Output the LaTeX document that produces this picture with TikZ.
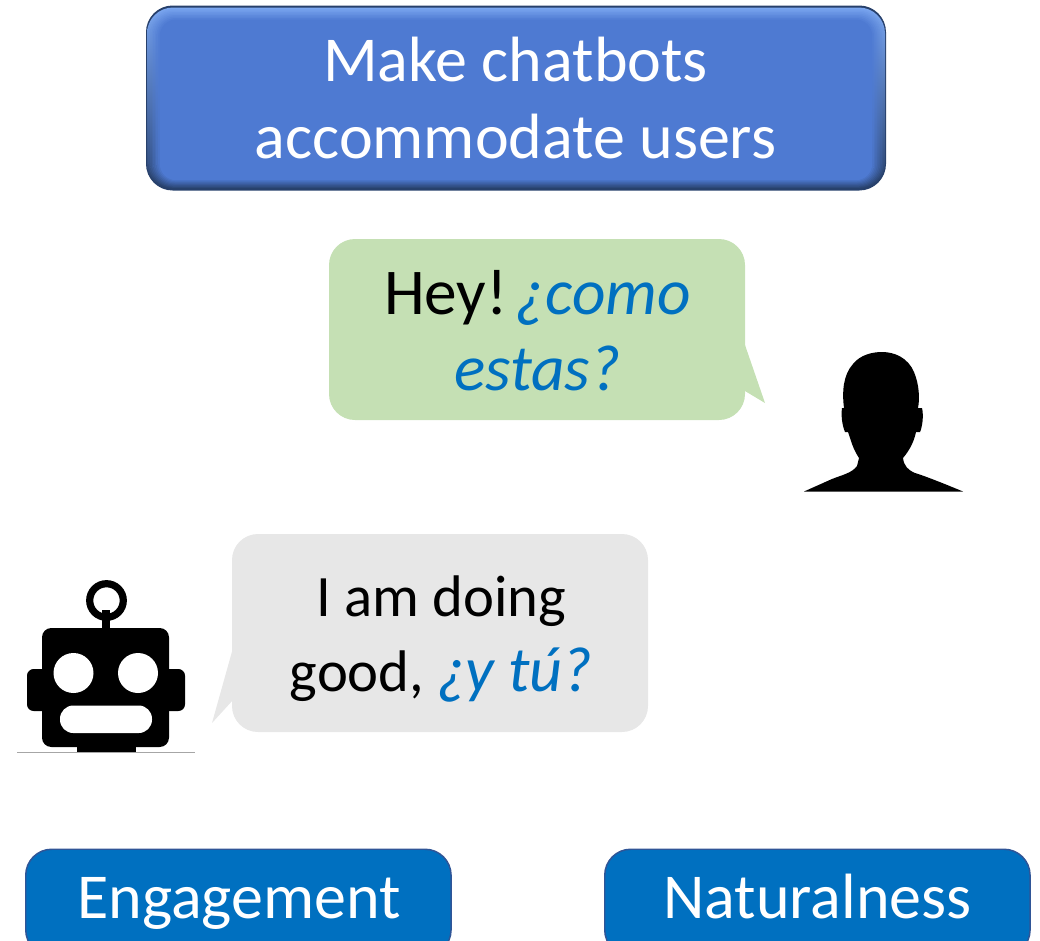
\documentclass[tikz,border=0pt]{standalone}
\usepackage{fontspec}
\setmainfont{Carlito}
\definecolor{topfill}{HTML}{4E7AD2}
\definecolor{topdark}{HTML}{27406B}
\definecolor{toplight}{HTML}{7AA6F0}
\definecolor{topside}{HTML}{3B62A8}
\definecolor{boxblue}{HTML}{0070C0}
\definecolor{boxedge}{HTML}{2F5597}
\definecolor{bubgreen}{HTML}{C5E0B4}
\definecolor{bubgray}{HTML}{E7E7E7}
\definecolor{spanish}{HTML}{0070C0}
\tikzset{
  label text/.style={font=\fontsize{48pt}{57.75pt}\selectfont,align=center,inner sep=0pt},
  user text/.style={font=\fontsize{49pt}{57pt}\selectfont,align=center,inner sep=0pt},
  bot text/.style={font=\fontsize{44pt}{56pt}\selectfont,align=center,inner sep=0pt},
  base box/.style={rounded corners=19.5pt,fill=boxblue,draw=boxedge,line width=1.1pt},
}
\newcommand{\es}[1]{{\color{spanish}\itshape #1}}
\begin{document}
\begin{tikzpicture}[x=0.75pt,y=-0.75pt]
\useasboundingbox (0,0) rectangle (1040,940);
\clip (0,0) rectangle (1040,940);
% title box with bevel
\fill[topdark,rounded corners=20pt] (146,5.5) rectangle (886,190.5);
\foreach \i in {0,...,8}{
  \pgfmathsetmacro{\mixv}{\i*12.5}
  \pgfmathsetmacro{\rad}{19.5-\i*0.9}
  \colorlet{layertop}{topfill!\mixv!toplight}
  \colorlet{layermid}{topfill!\mixv!topside}
  \colorlet{layerbot}{topfill!\mixv!topdark}
  \shade[top color=layertop,middle color=layermid,bottom color=layerbot,rounded corners=\rad pt]
    ({147+\i*1.6},{7.5+\i*1.5}) rectangle ({885-\i*1.6},{189-\i*1.1});
}
\node[label text,text=white] (title) at (515.5,98) {Make chatbots\\accommodate users};
% user bubble
\fill[bubgreen] (745,345) -- (765,403) -- (745,391) -- cycle;
\fill[bubgreen,rounded corners=19.5pt] (329,239) rectangle (745,420);
\node[user text,text=black] (userText) at (537.5,331) {Hey!\hspace{-9pt} \es{¿como}\\\es{estas?}};
% user silhouette
\fill[black] (804,491.5) -- (832,479) .. controls (842,475) and (852,473) .. (857,466)
  -- (859,458) .. controls (855,452) and (853,447) .. (851,441)
  -- (848,432) -- (845,432) .. controls (842,425) and (841,415) .. (842,408)
  -- (844,408) .. controls (842,392) and (843,375) .. (853,364)
  .. controls (860,355) and (872,352) .. (882,352)
  .. controls (895,352) and (908,358) .. (914,372)
  .. controls (919,384) and (920,398) .. (918,408)
  -- (922,408) .. controls (924,416) and (922,428) .. (920,432)
  -- (916,432) .. controls (914,442) and (909,451) .. (903,458)
  .. controls (904,466) and (908,470) .. (915,473)
  .. controls (925,476) and (945,484) .. (963,491.5) -- cycle;
% bot bubble
\fill[bubgray] (233,648) -- (212,723) -- (233,700) -- cycle;
\fill[bubgray,rounded corners=19.5pt] (232,534) rectangle (648,732);
\node[bot text,text=black] (botText) at (441,639) {I am doing\\good, {\fontsize{48pt}{56pt}\selectfont\es{¿y tú?}}};
% robot
\draw[black,line width=5.4pt] (106.5,600.5) circle (16.8);
\fill[black] (102,610) rectangle (110,632);
\fill[black,rounded corners=7pt] (42,628) rectangle (169,747);
\fill[black,rounded corners=5pt] (27,669) rectangle (50,711);
\fill[black,rounded corners=5pt] (161,669) rectangle (185,711);
\fill[black] (77,740) rectangle (136,752);
\fill[white] (73.5,673) circle (20);
\fill[white] (138,673) circle (20);
\fill[white,rounded corners=10pt] (60,705.5) rectangle (152,733);
\draw[black!35,line width=0.5pt] (17,752.5) -- (195,752.5);
% bottom boxes
\node[base box,minimum width=319pt,minimum height=80pt,anchor=north west] (engBox) at (25,848.5) {};
\node[label text,text=white,anchor=base] (engText) at (239,918) {Engagement};
\node[base box,minimum width=319pt,minimum height=80pt,anchor=north west] (natBox) at (604,848.5) {};
\node[label text,text=white,anchor=base] (natText) at (817.5,918) {Naturalness};
\end{tikzpicture}
\end{document}
